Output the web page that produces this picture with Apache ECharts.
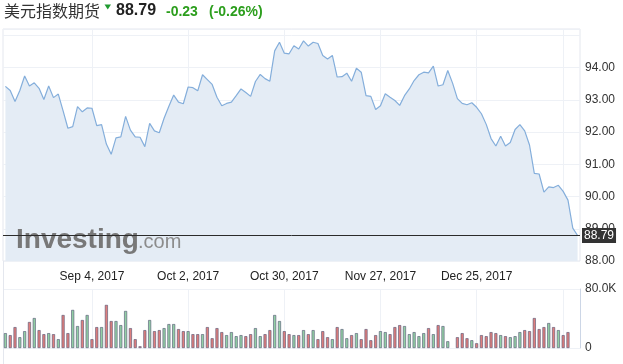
<!DOCTYPE html>
<html><head><meta charset="utf-8">
<script src="https://cdn.jsdelivr.net/npm/echarts@6/dist/echarts.min.js"></script>
<style>html,body{margin:0;padding:0;background:#fff}#c{width:623px;height:364px}</style>
</head><body><div id="c"></div>
<script>
const dates = [
'2017-08-09','2017-08-10','2017-08-11','2017-08-14','2017-08-15','2017-08-16','2017-08-17','2017-08-18','2017-08-21','2017-08-22','2017-08-23','2017-08-24','2017-08-25','2017-08-28','2017-08-29','2017-08-30','2017-08-31',
'2017-09-01','2017-09-04','2017-09-05','2017-09-06','2017-09-07','2017-09-08','2017-09-11','2017-09-12','2017-09-13','2017-09-14','2017-09-15','2017-09-18','2017-09-19','2017-09-20','2017-09-21','2017-09-22','2017-09-25','2017-09-26','2017-09-27','2017-09-28','2017-09-29',
'2017-10-02','2017-10-03','2017-10-04','2017-10-05','2017-10-06','2017-10-09','2017-10-10','2017-10-11','2017-10-12','2017-10-13','2017-10-16','2017-10-17','2017-10-18','2017-10-19','2017-10-20','2017-10-23','2017-10-24','2017-10-25','2017-10-26','2017-10-27','2017-10-30','2017-10-31',
'2017-11-01','2017-11-02','2017-11-03','2017-11-06','2017-11-07','2017-11-08','2017-11-09','2017-11-10','2017-11-13','2017-11-14','2017-11-15','2017-11-16','2017-11-17','2017-11-20','2017-11-21','2017-11-22','2017-11-23','2017-11-24','2017-11-27','2017-11-28','2017-11-29','2017-11-30',
'2017-12-01','2017-12-04','2017-12-05','2017-12-06','2017-12-07','2017-12-08','2017-12-11','2017-12-12','2017-12-13','2017-12-14','2017-12-15','2017-12-18','2017-12-19','2017-12-20','2017-12-21','2017-12-22','2017-12-26','2017-12-27','2017-12-28','2017-12-29',
'2018-01-02','2018-01-03','2018-01-04','2018-01-05','2018-01-08','2018-01-09','2018-01-10','2018-01-11','2018-01-12','2018-01-15','2018-01-16','2018-01-17','2018-01-18','2018-01-19','2018-01-22','2018-01-23','2018-01-24','2018-01-25'
];
const prices = [
93.42,93.29,92.95,93.29,93.74,93.43,93.53,93.36,93.01,93.43,
93.07,93.18,92.66,92.12,92.17,92.79,92.63,92.75,92.74,92.20,
92.23,91.63,91.31,91.82,91.85,92.49,92.06,91.85,91.84,91.55,
92.27,92.04,91.98,92.43,92.80,93.15,92.93,92.88,93.40,93.38,
93.28,93.78,93.63,93.48,93.08,92.82,92.89,92.93,93.13,93.34,
93.23,93.11,93.57,93.79,93.66,93.58,94.52,94.79,94.45,94.43,
94.68,94.58,94.83,94.67,94.79,94.75,94.38,94.27,94.38,93.71,
93.72,93.83,93.58,93.98,93.86,93.13,93.11,92.70,92.82,93.19,
93.08,92.98,92.83,93.13,93.34,93.60,93.78,93.86,93.84,94.05,
93.43,93.47,93.91,93.52,93.04,92.89,92.85,92.91,92.77,92.57,
92.24,91.80,91.57,91.87,91.57,91.68,92.08,92.23,92.04,91.60,
90.72,90.70,90.14,90.30,90.28,90.35,90.16,89.89,89.02,88.79
];
const volumes = [
20100,17400,28300,14600,22800,35200,40600,24200,18700,20100,
18700,11900,44700,20100,51600,29700,37900,44700,11900,28300,
28300,58400,36500,36500,31000,50200,26900,11900,2300,24200,
37900,22800,24200,26900,32400,32400,25600,22800,22800,18700,
18700,18700,28300,13200,26900,21500,17400,21500,16000,17400,
16000,18700,26900,16000,18700,24200,44700,36500,22800,18700,
17400,17400,24200,18700,24200,11900,22800,14600,11900,28300,
25600,13200,17400,20100,11900,25600,10500,17400,22800,21500,
18700,28300,31000,29700,18700,21500,16000,20100,26900,18700,
31000,29700,9100,null,14600,20100,13200,10500,6400,17400,
16000,21500,20100,17400,16000,14600,16000,21500,24200,22800,
40600,25600,28300,33800,28300,24200,17400,21500,null,null
];
const tickDates = ['2017-09-04','2017-10-02','2017-10-30','2017-11-27','2017-12-26','2018-01-22'];
const tickLabels = ['Sep 4, 2017','Oct 2, 2017','Oct 30, 2017','Nov 27, 2017','Dec 25, 2017',''];
const titleName = '美元指数期货';
const lastPrice = 88.79;
const change = '-0.23';
const changePct = '(-0.26%)';

const up = prices.map((v, i) => i === 0 ? true : v >= prices[i - 1]);
const isTick = (idx, val) => tickDates.indexOf(val) >= 0;
const FONT = 'Liberation Sans, Arial, sans-serif';
const GREEN_TXT = '#2c9e1d';

const chart = echarts.init(document.getElementById('c'), null, {renderer: 'canvas'});
chart.setOption({
  animation: false,
  backgroundColor: '#fff',
  grid: [
    {left: 3, right: 43, top: 29, height: 232, show: true, borderColor: '#e4e7ee', borderWidth: 1, outerBoundsMode: 'none', containLabel: false},
    {left: 3, right: 43, top: 289, height: 59, show: false, outerBoundsMode: 'none', containLabel: false}
  ],
  xAxis: [
    {type: 'category', gridIndex: 0, data: dates, boundaryGap: true,
     axisLine: {show: false}, axisTick: {show: false, alignWithLabel: true},
     axisLabel: {show: true, interval: isTick, margin: 10, fontSize: 12, color: '#222', fontFamily: FONT,
       formatter: v => tickLabels[tickDates.indexOf(v)] || ''},
     splitLine: {show: true, interval: isTick, alignWithLabel: true, lineStyle: {color: '#eef1f6', width: 1}}},
    {type: 'category', gridIndex: 1, data: dates, boundaryGap: true,
     axisLine: {show: false}, axisTick: {show: false, alignWithLabel: true}, axisLabel: {show: false},
     splitLine: {show: true, interval: isTick, alignWithLabel: true, lineStyle: {color: '#eef1f6', width: 1}}}
  ],
  yAxis: [
    {type: 'value', gridIndex: 0, position: 'right', min: 88, max: 95.2, splitNumber: 7, scale: true,
     axisLine: {show: false}, axisTick: {show: false},
     axisLabel: {margin: 5, fontSize: 12, color: '#333', fontFamily: FONT, showMaxLabel: true,
       formatter: v => (v > 94.5 ? '' : v.toFixed(2))},
     splitLine: {show: true, lineStyle: {color: '#eef1f6', width: 1}}},
    {type: 'value', gridIndex: 1, position: 'right', min: 0, max: 80000, interval: 80000,
     axisLine: {show: true, lineStyle: {color: '#ccd6e6', width: 1}}, axisTick: {show: false},
     axisLabel: {margin: 5, fontSize: 12, color: '#333', fontFamily: FONT,
       formatter: v => (v === 0 ? '0' : (v / 1000).toFixed(1) + 'K')},
     splitLine: {show: true, lineStyle: {color: '#eef1f6', width: 1}}}
  ],
  series: [
    {type: 'line', xAxisIndex: 0, yAxisIndex: 0, data: prices, symbol: 'none', z: 2,
     lineStyle: {color: '#84aedb', width: 1.2}, areaStyle: {color: '#e4ecf5', opacity: 1}},
    {type: 'line', xAxisIndex: 0, yAxisIndex: 0, data: [], z: 6,
     markLine: {symbol: 'none', silent: true, animation: false,
       lineStyle: {color: '#2b2b2b', width: 1, type: 'solid'},
       label: {show: true, position: 'end', distance: 2, formatter: lastPrice.toFixed(2),
         backgroundColor: '#333', color: '#fff', padding: [2, 2, 1, 2], fontSize: 12, fontFamily: FONT},
       data: [{yAxis: lastPrice}]}},
    {type: 'bar', xAxisIndex: 1, yAxisIndex: 1, data: volumes, barWidth: 3,
     itemStyle: {color: p => (up[p.dataIndex] ? '#93cfa5' : '#de7f7e'),
                 borderColor: p => (up[p.dataIndex] ? '#78bb8c' : '#cc6766'), borderWidth: 0.6}}
  ],
  graphic: [
    {type: 'text', left: 4, top: 3, z: 10, style: {text: titleName, font: '16px "Noto Sans CJK SC", sans-serif', fill: '#333'}},
    {type: 'polygon', z: 10, shape: {points: [[104.5, 4.5], [111, 4.5], [107.75, 9.5]]}, style: {fill: '#1f9a30'}},
    {type: 'text', left: 116, top: 3, z: 10, style: {text: lastPrice.toFixed(2), font: 'bold 16px ' + FONT, fill: '#222'}},
    {type: 'text', left: 166, top: 5, z: 10, style: {text: change, font: 'bold 14px ' + FONT, fill: GREEN_TXT}},
    {type: 'text', left: 209, top: 5, z: 10, style: {text: changePct, font: 'bold 14px ' + FONT, fill: GREEN_TXT}},
    {type: 'line', z: 1, shape: {x1: 3.5, y1: 261, x2: 3.5, y2: 364}, style: {stroke: '#e4e7ee', lineWidth: 1}},
    {type: 'text', z: 3, style: {x: 16, y: 254, text: 'Investing', font: 'bold 28px ' + FONT, fill: '#787878', verticalAlign: 'bottom'}},
    {type: 'text', z: 3, style: {x: 138, y: 252, text: '.com', font: '20px ' + FONT, fill: '#8c8c8c', verticalAlign: 'bottom'}}
  ]
});
</script>
</body></html>
